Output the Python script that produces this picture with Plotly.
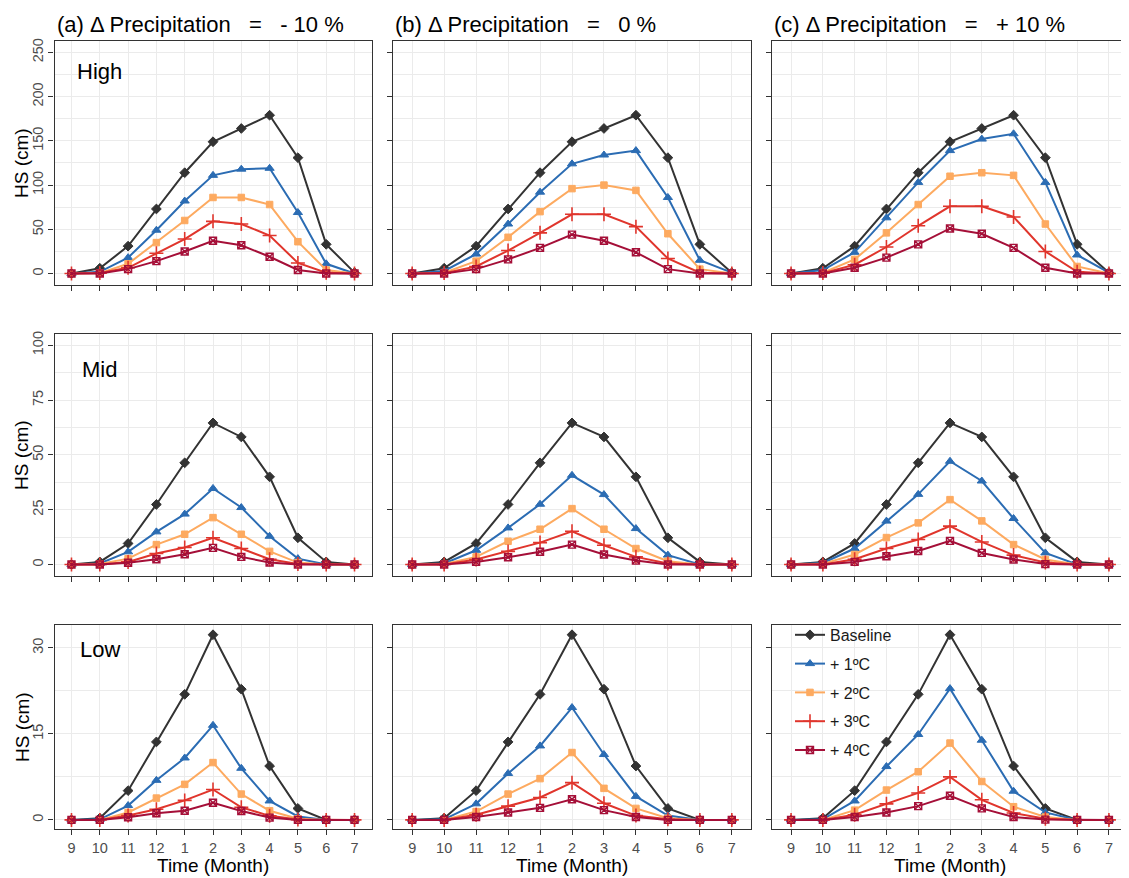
import plotly.graph_objects as go

# ---------------- data ----------------
months = ['9', '10', '11', '12', '1', '2', '3', '4', '5', '6', '7']
scenario_names = ['Baseline', '+ 1ºC', '+ 2ºC', '+ 3ºC', '+ 4ºC']
GAP = '\u00a0\u00a0\u00a0'
precip_titles = ['(a) Δ Precipitation' + GAP + '=' + GAP + '- 10 %',
                 '(b) Δ Precipitation' + GAP + '=' + GAP + '0 %',
                 '(c) Δ Precipitation' + GAP + '=' + GAP + '+ 10 %']
elev_labels = ['High', 'Mid', 'Low']
y_tickvals_high = [0, 50, 100, 150, 200, 250]
y_tickvals_mid = [0, 25, 50, 75, 100]
y_tickvals_low = [0, 15, 30]

# High elevation
high_base = [0, 6, 31, 73, 114, 149, 164, 179, 131, 33, 1]
high_m10_t1 = [0, 2, 18, 49, 82, 111, 118, 119, 69, 11, 0]
high_m10_t2 = [0, 0.5, 11, 35, 60, 86, 86, 78, 36, 4, 0]
high_m10_t3 = [0, 0.5, 6.5, 23, 39, 59, 56, 43, 12, 1, 0]
high_m10_t4 = [0, 0, 5, 14, 25, 37, 32, 19, 4, 0, 0]
high_0_t1 = [0, 3, 22, 56, 92, 124, 134, 139, 86, 15, 1]
high_0_t2 = [0, 1, 14, 41, 70, 96, 100, 94, 45, 5, 0]
high_0_t3 = [0, 0.5, 8, 26, 46, 67, 67, 53, 17, 1, 0]
high_0_t4 = [0, 0, 5, 16, 29, 44, 37, 24, 5, 0, 0]
high_p10_t1 = [0, 4, 24, 63, 103, 139, 152, 158, 103, 21, 1]
high_p10_t2 = [0, 1, 16, 46, 78, 110, 114, 111, 56, 8, 0]
high_p10_t3 = [0, 0.5, 10, 30, 54, 76, 76, 64, 25, 2, 0]
high_p10_t4 = [0, 0, 6.5, 18, 33, 51, 45, 29, 6.5, 0, 0]

# Mid elevation
mid_base = [0, 1.2, 9.6, 27.4, 46.4, 64.6, 58.2, 40, 12.2, 1.2, 0]
mid_m10_t1 = [0, 0.5, 5.8, 14.9, 23, 34.7, 26, 12.9, 2.7, 0, 0]
mid_m10_t2 = [0, 0.2, 2.7, 9.1, 13.8, 21.4, 13.8, 6, 0.9, 0, 0]
mid_m10_t3 = [0, 0, 1.2, 5, 7.8, 12.2, 7.3, 2.4, 0.2, 0, 0]
mid_m10_t4 = [0, 0, 0.8, 2.4, 4.7, 7.6, 3.5, 0.9, 0, 0, 0]
mid_0_t1 = [0, 0.5, 6.5, 16.7, 27.5, 40.7, 31.9, 16.4, 4.3, 0, 0]
mid_0_t2 = [0, 0.2, 3.5, 10.6, 16.1, 25.5, 16.1, 7.3, 1.5, 0, 0]
mid_0_t3 = [0, 0, 2.3, 6, 10, 15.2, 8.8, 3.5, 0.5, 0, 0]
mid_0_t4 = [0, 0, 1.2, 3.3, 5.8, 9.1, 4.6, 1.8, 0, 0, 0]
mid_p10_t1 = [0, 0.7, 7.3, 19.8, 32, 47.1, 38.1, 21, 5.3, 0, 0]
mid_p10_t2 = [0, 0.3, 4.6, 12.3, 19, 29.6, 19.9, 9.1, 2.3, 0, 0]
mid_p10_t3 = [0, 0, 2.4, 7.3, 11.4, 17.5, 10.3, 4.3, 0.9, 0, 0]
mid_p10_t4 = [0, 0, 1.2, 3.8, 6.2, 10.8, 5.3, 2.3, 0.2, 0, 0]

# Low elevation
low_base = [0, 0.3, 5.1, 13.6, 21.9, 32.3, 22.8, 9.4, 2, 0, 0]
low_m10_t1 = [0, 0.1, 2.5, 6.9, 10.8, 16.5, 9, 3.3, 0.6, 0, 0]
low_m10_t2 = [0, 0, 1.3, 3.8, 6.2, 10, 4.5, 1.6, 0.2, 0, 0]
low_m10_t3 = [0, 0, 0.75, 1.85, 3.4, 5.3, 2.2, 0.7, 0.05, 0, 0]
low_m10_t4 = [0, 0, 0.46, 1.16, 1.6, 3, 1.56, 0.4, 0, 0, 0]
low_0_t1 = [0, 0.1, 2.8, 8.1, 12.9, 19.6, 11.4, 4.1, 0.75, 0, 0]
low_0_t2 = [0, 0, 1.45, 4.5, 7.2, 11.75, 5.5, 2, 0.3, 0, 0]
low_0_t3 = [0, 0, 0.9, 2.4, 3.9, 6.5, 2.9, 0.75, 0.1, 0, 0]
low_0_t4 = [0, 0, 0.5, 1.3, 2.1, 3.6, 1.7, 0.5, 0, 0, 0]
low_p10_t1 = [0, 0.1, 3.3, 9.3, 14.9, 22.9, 13.9, 5, 1.3, 0, 0]
low_p10_t2 = [0, 0, 1.7, 5.2, 8.4, 13.4, 6.7, 2.3, 0.5, 0, 0]
low_p10_t3 = [0, 0, 0.9, 2.8, 4.7, 7.5, 3.5, 1.2, 0.2, 0, 0]
low_p10_t4 = [0, 0, 0.5, 1.3, 2.4, 4.2, 2, 0.5, 0.05, 0, 0]

panels = {
    (0, 0): [high_base, high_m10_t1, high_m10_t2, high_m10_t3, high_m10_t4],
    (0, 1): [high_base, high_0_t1, high_0_t2, high_0_t3, high_0_t4],
    (0, 2): [high_base, high_p10_t1, high_p10_t2, high_p10_t3, high_p10_t4],
    (1, 0): [mid_base, mid_m10_t1, mid_m10_t2, mid_m10_t3, mid_m10_t4],
    (1, 1): [mid_base, mid_0_t1, mid_0_t2, mid_0_t3, mid_0_t4],
    (1, 2): [mid_base, mid_p10_t1, mid_p10_t2, mid_p10_t3, mid_p10_t4],
    (2, 0): [low_base, low_m10_t1, low_m10_t2, low_m10_t3, low_m10_t4],
    (2, 1): [low_base, low_0_t1, low_0_t2, low_0_t3, low_0_t4],
    (2, 2): [low_base, low_p10_t1, low_p10_t2, low_p10_t3, low_p10_t4],
}
row_tickvals = [y_tickvals_high, y_tickvals_mid, y_tickvals_low]

# ---------------- style ----------------
FONT = 'Liberation Sans, Arial, sans-serif'
colors = ['#333333', '#2B6CB3', '#FDAA60', '#E0352C', '#A50F38']
symbols = ['diamond', 'triangle-up', 'square', 'cross-thin', 'square-x-open']
msizes = [7.5, 8, 6.5, 10, 7]
mlw = [1, 1, 1, 1.6, 1.4]
OFF = 8  # page body margin
W, H = 1129 - OFF, 878 - OFF
col_px = [(54.5 - OFF, 371.5 - OFF), (393 - OFF, 751 - OFF), (772 - OFF, 1128 - OFF)]
row_px = [(38 - OFF, 283 - OFF), (332 - OFF, 575 - OFF), (624 - OFF, 829 - OFF)]
y_ranges = [(-13, 263), (-5.25, 105.2), (-1.62, 34.02)]
elev_y = [228, 89, 29.7]

fig = go.Figure()
layout = dict(
    width=W, height=H,
    margin=dict(l=0, r=0, t=0, b=0),
    paper_bgcolor='white', plot_bgcolor='white',
    font=dict(family=FONT, color='black'),
    showlegend=True,
    legend=dict(x=(790 - OFF) / W, y=1 - (617 - OFF) / H, xanchor='left', yanchor='top',
                bgcolor='rgba(0,0,0,0)', borderwidth=0, font=dict(size=16, color='#1a1a1a'),
                itemwidth=30, tracegroupgap=5, traceorder='grouped'),
    # white backing behind the legend keys/text that hides the grid but not the data
    shapes=[dict(type='rect', xref='paper', yref='paper', layer='between',
                 x0=(791 - OFF) / W, x1=(872 - OFF) / W,
                 y0=1 - (763 - OFF) / H, y1=1 - (626 - OFF) / H,
                 fillcolor='white', line=dict(width=0))],
)
annotations = []

for r in range(3):
    for c in range(3):
        k = r * 3 + c + 1
        xs = '' if k == 1 else str(k)
        x0, x1 = col_px[c]
        y0, y1 = row_px[r]
        tv = row_tickvals[r]
        dt = tv[1] - tv[0]
        layout['xaxis' + xs] = dict(
            domain=[x0 / W, x1 / W], anchor='y' + xs,
            type='category', categoryorder='array', categoryarray=months,
            range=[-0.6, 10.6],
            showgrid=True, gridcolor='#EBEBEB', gridwidth=1.3, zeroline=False,
            showline=True, mirror=True, linecolor='#333333', linewidth=1.3,
            ticks='outside', ticklen=5, tickcolor='#333333', tickwidth=1.1,
            showticklabels=(r == 2), tickfont=dict(size=14.5, color='#4D4D4D'),
        )
        layout['yaxis' + xs] = dict(
            domain=[1 - y1 / H, 1 - y0 / H], anchor='x' + xs,
            range=list(y_ranges[r]), tickmode='array', tickvals=tv,
            showgrid=True, gridcolor='#EBEBEB', gridwidth=1.3, zeroline=False,
            minor=dict(tickmode='linear', tick0=dt / 2, dtick=dt, showgrid=True,
                       gridcolor='#EBEBEB', gridwidth=0.8, ticks=''),
            showline=True, mirror=True, linecolor='#333333', linewidth=1.3,
            ticks='outside', ticklen=5, tickcolor='#333333', tickwidth=1.1,
            showticklabels=(c == 0), tickangle=-90,
            tickfont=dict(size=14.5, color='#4D4D4D'),
        )
        series = panels[(r, c)]
        for i, vals in enumerate(series):
            fig.add_trace(go.Scatter(
                x=months, y=vals, xaxis='x' + xs, yaxis='y' + xs,
                mode='lines+markers', name=scenario_names[i],
                legendgroup=scenario_names[i], showlegend=(k == 1),
                line=dict(color=colors[i], width=2),
                marker=dict(symbol=symbols[i], size=msizes[i], color=colors[i],
                            line=dict(color=colors[i], width=mlw[i])),
            ))
        if c == 0:
            annotations.append(dict(
                x=1, y=elev_y[r], xref='x' + xs, yref='y' + xs,
                text=elev_labels[r], showarrow=False,
                font=dict(size=22, color='black'), xanchor='center', yanchor='middle'))
    # y axis titles
    annotations.append(dict(
        x=(22 - OFF) / W, y=1 - (row_px[r][0] + row_px[r][1]) / 2 / H,
        xref='paper', yref='paper',
        text='HS (cm)', textangle=-90, showarrow=False,
        font=dict(size=19, color='black'), xanchor='center', yanchor='middle'))

for c in range(3):
    annotations.append(dict(
        x=col_px[c][0] / W, y=1 - (22 - OFF) / H, xref='paper', yref='paper',
        text=precip_titles[c], showarrow=False,
        font=dict(size=22, color='black'), xanchor='left', yanchor='middle'))
    annotations.append(dict(
        x=(col_px[c][0] + col_px[c][1]) / 2 / W, y=1 - (865 - OFF) / H,
        xref='paper', yref='paper',
        text='Time (Month)', showarrow=False,
        font=dict(size=19, color='black'), xanchor='center', yanchor='middle'))

layout['annotations'] = annotations
fig.update_layout(**layout)
fig.write_html('out.html')
